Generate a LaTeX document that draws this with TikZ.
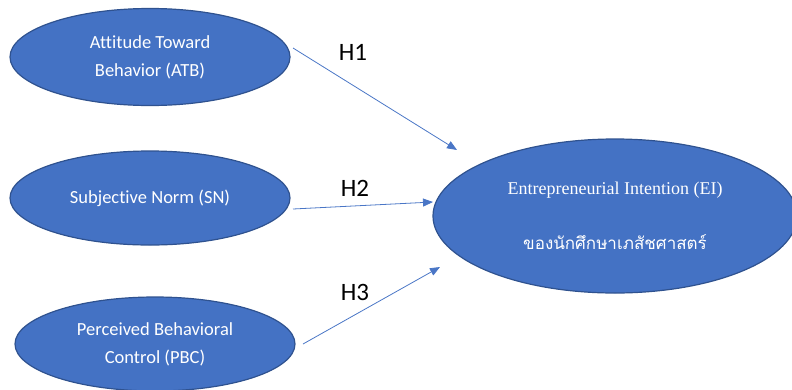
\documentclass[tikz,border=0pt]{standalone}
\usepackage{fontspec}
\setmainfont[Ligatures={NoCommon}]{Carlito}
\newfontfamily\serifEI{Liberation Serif}
\newfontfamily\thaifont[Script=Thai]{Loma}
\usetikzlibrary{shapes.geometric,arrows.meta}
\definecolor{fillblue}{HTML}{4472C4}
\definecolor{edgeblue}{HTML}{2F528F}
\definecolor{arrowblue}{HTML}{4A76C6}
\tikzset{
  construct/.style={ellipse, fill=fillblue, draw=edgeblue, line width=1.2pt,
    inner sep=0pt, text=white, align=center, font=\fontsize{18.5}{28}\selectfont},
  hlabel/.style={text=black, font=\fontsize{25}{28}\selectfont, inner sep=0pt},
  path/.style={draw=arrowblue, line width=0.8pt, -{Triangle[length=10pt,width=8pt]}}
}
\begin{document}
\begin{tikzpicture}[x=1pt,y=-1pt]
\useasboundingbox (0,0) rectangle (792,389);
\clip (0,0) rectangle (792,389);
\node[construct, minimum width=280pt, minimum height=97pt] (atb) at (150,57) {Attitude Toward\\Behavior (ATB)};
\node[construct, minimum width=280pt, minimum height=94pt] (sn) at (150,198) {Subjective Norm (SN)};
\node[construct, minimum width=280pt, minimum height=94pt] (pbc) at (155,344) {Perceived Behavioral\\Control (PBC)};
\node[construct, minimum width=364pt, minimum height=154pt] (ei) at (615,216) {};
\node[text=white, font=\serifEI\fontsize{18}{20}\selectfont, inner sep=0pt] (eitxt) at (615,190) {Entrepreneurial Intention (EI)};
\node[text=white, font=\thaifont\fontsize{17}{20}\selectfont, inner sep=0pt] (eith) at (615,242) {ของนักศึกษาเภสัชศาสตร์};
\coordinate (s1) at (293,48);
\coordinate (e1) at (457,150);
\coordinate (s2) at (293,209);
\coordinate (e2) at (433,202);
\coordinate (s3) at (303,344);
\coordinate (e3) at (440,267);
\draw[path] (s1) -- (e1);
\draw[path] (s2) -- (e2);
\draw[path] (s3) -- (e3);
\node[hlabel] (h1) at (353,52) {H1};
\node[hlabel] (h2) at (355,188) {H2};
\node[hlabel] (h3) at (355,292) {H3};
\end{tikzpicture}
\end{document}
